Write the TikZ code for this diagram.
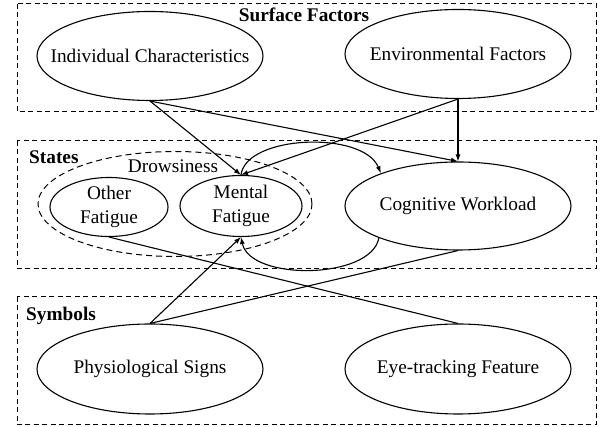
\documentclass[tikz,border=0pt]{standalone}
\usepackage{fontspec}
\setmainfont{Liberation Serif}
\usetikzlibrary{shapes.geometric,arrows.meta}

\begin{document}
\begin{tikzpicture}[
    x=1pt, y=-1pt,
    every node/.style={font=\fontsize{19.3}{24}\selectfont},
    >={Latex[length=7pt,width=5pt]},
    % dashed frames round each layer
    layer/.style={draw, dash pattern=on 5pt off 3.5pt, line width=1pt},
    layertitle/.style={font=\fontsize{19.3}{24}\selectfont\bfseries, inner sep=0pt},
    % ellipses; the text sits in a centre label so it does not widen the shape
    concept/.style={
        ellipse,
        draw,
        line width=1.1pt,
        inner sep=0pt,
        minimum width=226pt,
        minimum height=89pt
    },
    fatigue/.style={
        ellipse,
        draw,
        line width=1.1pt,
        inner sep=0pt,
        minimum width=120pt,
        minimum height=59pt
    },
    link/.style={line width=1.1pt}
]

\useasboundingbox (0,0) rectangle (606,427);

% Layer frames
\foreach \top/\bot in {4/112, 141/269, 297/425} {
    \draw[layer] (17,\top) rectangle (596,\bot);
}

% Surface factors
\node[layertitle] (sf-title) at (304,15) {Surface Factors};
\node[concept, label=center:Individual Characteristics] (ic) at (150,56) {};
\node[concept, label=center:Environmental Factors] (ef) at (458,54) {};

% States
\node[layertitle, anchor=west] (st-title) at (29,157) {States};
\node[ellipse, draw, dash pattern=on 6pt off 4pt, line width=1pt, inner sep=0pt,
      minimum width=274pt, minimum height=105pt] (drowsy) at (175,204) {};
\node (drowsy-lbl) at (173,166) {Drowsiness};
\node[fatigue, minimum width=118pt, label={[align=center]center:Other\\Fatigue}] (of) at (109,207) {};
\node[fatigue, minimum width=122pt, minimum height=61pt, label={[align=center]center:Mental\\Fatigue}] (mf) at (241,206) {};
\node[concept, minimum height=88pt, label=center:Cognitive Workload] (cw) at (458,206) {};

% Symbols
\node[layertitle, anchor=west] (sy-title) at (26,316) {Symbols};
\node[concept, minimum height=90pt, label=center:Physiological Signs] (ps) at (150,369) {};
\node[concept, minimum height=90pt, label=center:Eye-tracking Feature] (et) at (458,369) {};

% Influences from the surface factors
\draw[link, ->] (ic.south) -- (mf.north);
\draw[link, ->] (ic.south) -- (cw.north);
\draw[link, ->] (ef.south) -- (mf.north);
\draw[link, ->] (ef.south) -- (cw.north);

% Mental fatigue <-> cognitive workload
\draw[link, ->] (mf.north) .. controls +(5,-40) and +(-18,-43) .. (cw.157);
\draw[link, ->] (cw.202) .. controls +(-8,42) and +(9,44) .. (mf.south);

% Symbols
\draw[link, ->] (ps.north) -- (mf.south);
\draw[link] (of.south) -- (et.north);
\draw[link] (cw.south) -- (ps.north);

\end{tikzpicture}
\end{document}
